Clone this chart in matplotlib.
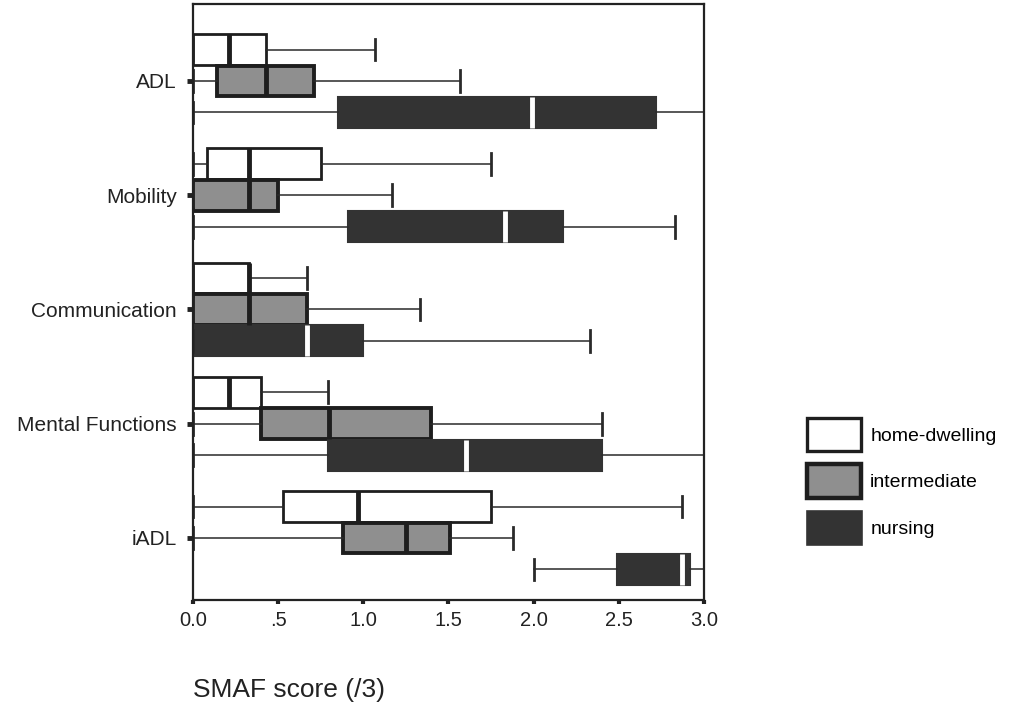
import matplotlib.pyplot as plt
from matplotlib.patches import Patch

plt.rcParams['font.family'] = ['Liberation Sans', 'DejaVu Sans']

categories = ['ADL', 'Mobility', 'Communication', 'Mental Functions', 'iADL']
groups = ['home-dwelling', 'intermediate', 'nursing']
xtick_vals = [0.0, 0.5, 1.0, 1.5, 2.0, 2.5, 3.0]
xtick_labels = ['0.0', '.5', '1.0', '1.5', '2.0', '2.5', '3.0']

# home-dwelling
home_lo = [0.0, 0.0, 0.0, 0.0, 0.0]
home_q1 = [0.0, 0.08, 0.0, 0.0, 0.53]
home_med = [0.21, 0.33, 0.33, 0.21, 0.97]
home_q3 = [0.43, 0.75, 0.33, 0.40, 1.75]
home_hi = [1.07, 1.75, 0.67, 0.79, 2.87]

# intermediate
inter_lo = [0.0, 0.0, 0.0, 0.0, 0.0]
inter_q1 = [0.14, 0.0, 0.0, 0.40, 0.88]
inter_med = [0.43, 0.33, 0.33, 0.80, 1.25]
inter_q3 = [0.71, 0.50, 0.67, 1.40, 1.51]
inter_hi = [1.57, 1.17, 1.33, 2.40, 1.88]

# nursing
nurs_lo = [0.0, 0.0, 0.0, 0.0, 2.0]
nurs_q1 = [0.85, 0.91, 0.0, 0.79, 2.49]
nurs_med = [1.99, 1.83, 0.67, 1.60, 2.87]
nurs_q3 = [2.72, 2.17, 1.00, 2.40, 2.92]
nurs_hi = [3.0, 2.83, 2.33, 3.0, 3.0]

series = [
    (home_lo, home_q1, home_med, home_q3, home_hi),
    (inter_lo, inter_q1, inter_med, inter_q3, inter_hi),
    (nurs_lo, nurs_q1, nurs_med, nurs_q3, nurs_hi),
]
faces = ['#ffffff', '#8f8f8f', '#333333']
edges = ['#1e1e1e', '#1e1e1e', '#333333']
edge_w = [2.0, 2.8, 1.5]
med_colors = ['#1e1e1e', '#1e1e1e', '#ffffff']
offsets = [-0.275, 0.0, 0.275]
box_h = 0.27

fig = plt.figure(figsize=(10.12, 7.06), dpi=100)
ax = fig.add_axes([193 / 1012, 1 - 600 / 706, 511 / 1012, 596 / 706])

for g, (lo, q1, med, q3, hi) in enumerate(series):
    stats = []
    for i in range(len(categories)):
        stats.append({'whislo': lo[i], 'q1': q1[i], 'med': med[i],
                      'q3': q3[i], 'whishi': hi[i], 'fliers': []})
    pos = [i + offsets[g] for i in range(len(categories))]
    ax.bxp(stats, positions=pos, widths=box_h, vert=False, patch_artist=True,
           showfliers=False, capwidths=0.19,
           boxprops=dict(facecolor=faces[g], edgecolor=edges[g], linewidth=edge_w[g]),
           medianprops=dict(color=med_colors[g], linewidth=3.5, solid_capstyle='butt'),
           whiskerprops=dict(color='#2a2a2a', linewidth=1.1),
           capprops=dict(color='#2a2a2a', linewidth=2.0))

ax.set_xlim(0, 3.0)
ax.set_ylim(4 + 0.543, -0.674)
ax.set_yticks(range(len(categories)))
ax.set_yticklabels(categories, fontsize=15, color='#222222')
ax.set_xticks(xtick_vals)
ax.set_xticklabels(xtick_labels, fontsize=14.5, color='#222222')
ax.tick_params(axis='y', length=4.5, width=3.5, pad=7, color='#222222')
ax.tick_params(axis='x', length=3, width=3, pad=5, color='#222222')
for s in ax.spines.values():
    s.set_linewidth(1.6)
    s.set_color('#222222')

handles = [Patch(facecolor=faces[g], edgecolor=edges[g], linewidth=edge_w[g] + 0.4)
           for g in range(3)]
fig.legend(handles, groups, loc='upper left', bbox_to_anchor=(807 / 1012, 1 - 418 / 706),
           frameon=False, fontsize=14, handlelength=2.8, handleheight=2.25,
           labelspacing=0.68, handletextpad=0.45, borderpad=0, borderaxespad=0)

fig.text(193 / 1012, 1 - 690 / 706, 'SMAF score (/3)', fontsize=19,
         va='center', ha='left', color='#222222')

fig.savefig('out.png', dpi=100)
